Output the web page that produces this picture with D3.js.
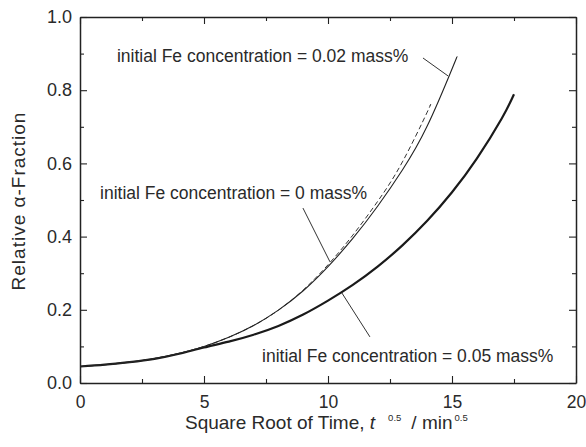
<!DOCTYPE html>
<html>
<head>
<meta charset="utf-8">
<script src="https://cdn.jsdelivr.net/npm/d3@7"></script>
<style>
  body { margin: 0; background: #fff; }
  svg text { font-family: "Liberation Sans", Arial, Helvetica, sans-serif; fill: #2a2a2a; }
</style>
</head>
<body>
<svg id="chart" width="586" height="447"></svg>
<script>
// data
const sqrtTime002 = [0, 1, 2, 3, 4, 5, 6, 7, 8, 9, 10, 11, 12, 13, 14, 15, 15.2];
const frac002 = [0.045, 0.050, 0.057, 0.067, 0.081, 0.100, 0.125, 0.157, 0.199, 0.252, 0.318, 0.395, 0.483, 0.582, 0.702, 0.858, 0.892];

const sqrtTime000 = [0, 1, 2, 3, 4, 5, 6, 7, 8, 9, 10, 11, 12, 13, 14, 14.1];
const frac000 = [0.045, 0.050, 0.057, 0.067, 0.081, 0.100, 0.125, 0.157, 0.199, 0.254, 0.323, 0.404, 0.496, 0.604, 0.740, 0.757];

const sqrtTime005 = [0, 1, 2, 3, 4, 5, 6, 7, 8, 9, 10, 11, 12, 13, 14, 15, 16, 17, 17.5];
const frac005 = [0.045, 0.050, 0.057, 0.066, 0.080, 0.097, 0.113, 0.132, 0.156, 0.187, 0.225, 0.268, 0.318, 0.376, 0.443, 0.521, 0.613, 0.722, 0.789];

const xTicks = [0, 5, 10, 15, 20];
const yTicks = [0, 0.2, 0.4, 0.6, 0.8, 1.0];
const xMinor = [2.5, 7.5, 12.5, 17.5];
const yMinor = [0.1, 0.3, 0.5, 0.7, 0.9];

const labels = ["initial Fe concentration = 0.02 mass%",
                "initial Fe concentration = 0 mass%",
                "initial Fe concentration = 0.05 mass%"];

const margin = {left: 80, right: 10, top: 17, bottom: 64};
const W = 586, H = 447;

const svg = d3.select("#chart");
const x = d3.scaleLinear().domain([0, 20]).range([margin.left, W - margin.right]);
const y = d3.scaleLinear().domain([0, 1]).range([H - margin.bottom, margin.top]);

const toPts = (xs, ys) => xs.map((v, i) => ({x: v, y: ys[i]}));
const line = d3.line().x(d => x(d.x)).y(d => y(d.y)).curve(d3.curveNatural);

// curves
svg.append("path").datum(toPts(sqrtTime005, frac005))
    .attr("d", line).attr("fill", "none")
    .attr("stroke", "#1a1a1a").attr("stroke-width", 2.2);
svg.append("path").datum(toPts(sqrtTime000, frac000))
    .attr("d", line).attr("fill", "none")
    .attr("stroke", "#333").attr("stroke-width", 1)
    .attr("stroke-dasharray", "5,3");
svg.append("path").datum(toPts(sqrtTime002, frac002))
    .attr("d", line).attr("fill", "none")
    .attr("stroke", "#222").attr("stroke-width", 1.1);

// axes (ticks pointing inward on all four sides)
const fmtY = d3.format(".1f");
const addAxis = (axisFn, scale, ticks, minor, transform, showLabels, fmt) => {
    const g = svg.append("g").attr("class", "axis").attr("transform", transform);
    g.call(axisFn(scale).tickValues(ticks).tickSizeInner(-7).tickSizeOuter(0)
        .tickFormat(showLabels ? fmt : ""));
    g.call(a => a.select(".domain").attr("stroke", "#222").attr("stroke-width", 1.5));
    g.selectAll(".tick line").attr("stroke", "#222").attr("stroke-width", 1.1);
    const g2 = svg.append("g").attr("transform", transform);
    g2.call(axisFn(scale).tickValues(minor).tickSizeInner(-4).tickSizeOuter(0).tickFormat(""));
    g2.select(".domain").remove();
    g2.selectAll(".tick line").attr("stroke", "#222").attr("stroke-width", 1.1);
    return g;
};

const xb = addAxis(d3.axisBottom, x, xTicks, xMinor, `translate(0,${y(0)})`, true, d3.format("d"));
xb.selectAll(".tick text").attr("font-size", "17.5px").attr("dy", "0.95em").attr("y", 8);
addAxis(d3.axisTop, x, xTicks, xMinor, `translate(0,${y(1)})`, false);
const yl = addAxis(d3.axisLeft, y, yTicks, yMinor, `translate(${x(0)},0)`, true, fmtY);
yl.selectAll(".tick text").attr("font-size", "18px").attr("x", -8);
addAxis(d3.axisRight, y, yTicks, yMinor, `translate(${x(20)},0)`, false);

// axis titles
const xt = svg.append("text")
    .attr("x", 185).attr("y", 429)
    .attr("font-size", "19px");
xt.append("tspan").text("Square Root of Time, ");
xt.append("tspan").attr("font-style", "italic").text("t");
xt.append("tspan").attr("font-size", "9.5px").attr("dx", 13).attr("dy", -8).text("0.5");
xt.append("tspan").attr("dx", 10).attr("dy", 8).text("/ min");
xt.append("tspan").attr("font-size", "9.5px").attr("dx", 2).attr("dy", -8).text("0.5");

svg.append("text")
    .attr("transform", `translate(25,201) rotate(-90)`)
    .attr("text-anchor", "middle")
    .attr("font-size", "19px")
    .attr("letter-spacing", "1px")
    .text("Relative α-Fraction");

// annotations: label position and leader line in data units
const notes = [
    {text: labels[0], tx: 1.49, ty: 0.877, l: [[13.83, 0.888], [14.84, 0.839]]},
    {text: labels[1], tx: 0.81, ty: 0.503, l: [[8.99, 0.478], [10.08, 0.331]]},
    {text: labels[2], tx: 7.34, ty: 0.057, l: [[10.56, 0.246], [11.69, 0.126]]}
];
notes.forEach(n => {
    svg.append("text")
        .attr("x", x(n.tx)).attr("y", y(n.ty))
        .attr("font-size", "17.5px")
        .text(n.text);
    svg.append("line")
        .attr("x1", x(n.l[0][0])).attr("y1", y(n.l[0][1]))
        .attr("x2", x(n.l[1][0])).attr("y2", y(n.l[1][1]))
        .attr("stroke", "#333").attr("stroke-width", 1);
});
</script>
</body>
</html>
